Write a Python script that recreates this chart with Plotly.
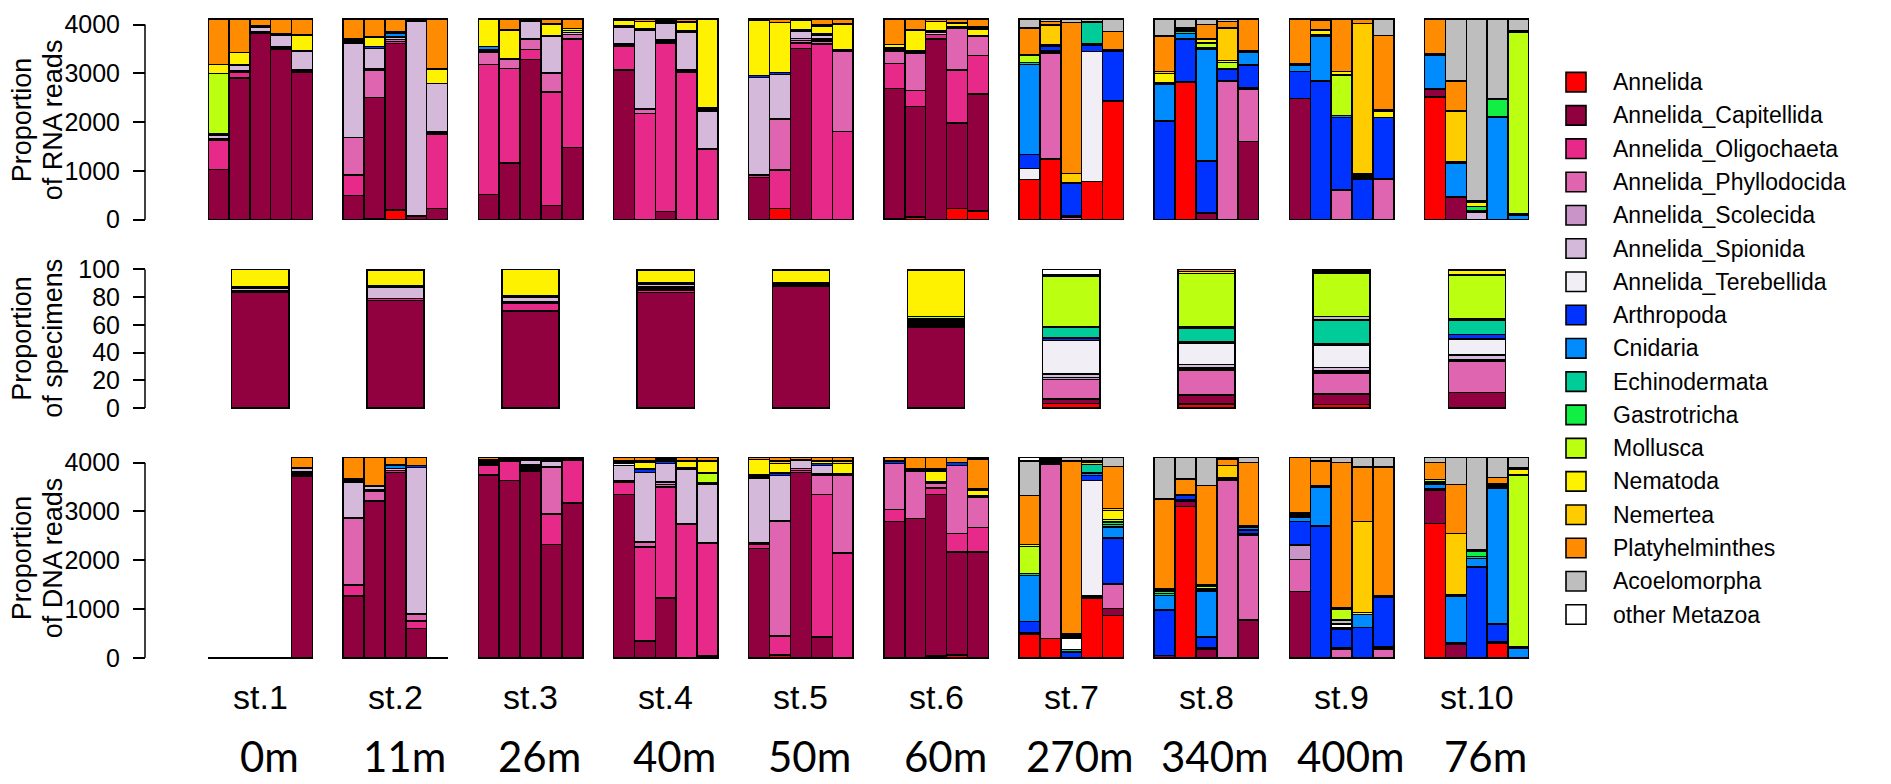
import plotly.graph_objects as go

# ---------------- taxa, colours, labels ----------------
taxa = ["Annelida", "Annelida_Capitellida", "Annelida_Oligochaeta", "Annelida_Phyllodocida",
        "Annelida_Scolecida", "Annelida_Spionida", "Annelida_Terebellida", "Arthropoda",
        "Cnidaria", "Echinodermata", "Gastrotricha", "Mollusca", "Nematoda", "Nemertea",
        "Platyhelminthes", "Acoelomorpha", "other Metazoa"]
keys = ["Ann", "Cap", "Oli", "Phy", "Sco", "Spi", "Ter", "Art", "Cni", "Ech", "Gas",
        "Mol", "Nem", "Nmr", "Pla", "Aco", "Oth"]
colors = ["#FF0000", "#91003F", "#E7298A", "#DF65B0", "#C994C7", "#D4B9DA", "#F1EEF6",
          "#0033FF", "#008CFF", "#00CC99", "#11EE44", "#BBFF11", "#FFF200", "#FFCC00",
          "#FF8C00", "#BEBEBE", "#FFFFFF"]
stations = ["st.1", "st.2", "st.3", "st.4", "st.5", "st.6", "st.7", "st.8", "st.9", "st.10"]
depths = ["0m", "11m", "26m", "40m", "50m", "60m", "270m", "340m", "400m", "76m"]

# ---------------- RNA reads (5 replicates per station) ----------------
rna_st1 = {"Cap": [1030, 2900, 3820, 3500, 3030], "Oli": [600, 130, 0, 30, 25],
           "Phy": [30, 30, 0, 20, 25], "Sco": [0, 0, 30, 0, 0], "Spi": [80, 110, 100, 240, 380],
           "Art": [20, 0, 30, 0, 0], "Cni": [0, 0, 0, 20, 0], "Mol": [1240, 0, 0, 0, 0],
           "Nem": [180, 260, 0, 0, 320], "Nmr": [0, 0, 0, 0, 20], "Pla": [930, 680, 130, 300, 310]}
rna_st2 = {"Ann": [0, 30, 200, 0, 0], "Cap": [500, 2480, 3413, 80, 233],
           "Oli": [413, 0, 40, 0, 1520], "Phy": [774, 557, 40, 0, 47], "Sco": [0, 20, 0, 0, 0],
           "Spi": [1933, 426, 40, 3980, 987], "Ter": [40, 0, 0, 0, 0], "Art": [40, 40, 20, 0, 0],
           "Cni": [0, 0, 67, 0, 0], "Ech": [0, 0, 27, 0, 0], "Nem": [0, 180, 0, 20, 293],
           "Nmr": [0, 20, 0, 0, 20], "Pla": [410, 357, 263, 30, 1010]}
rna_st3 = {"Cap": [513, 1167, 3280, 287, 1480], "Oli": [2667, 1933, 207, 2333, 2220],
           "Phy": [253, 180, 213, 380, 100], "Sco": [0, 0, 13, 20, 0], "Spi": [30, 20, 354, 747, 40],
           "Ter": [24, 0, 0, 0, 0], "Art": [0, 0, 0, 13, 0], "Cni": [66, 0, 0, 0, 0],
           "Mol": [0, 0, 0, 0, 40], "Nem": [547, 587, 13, 220, 40], "Nmr": [0, 0, 0, 20, 0],
           "Pla": [10, 223, 30, 90, 190]}
rna_st4 = {"Cap": [3067, 0, 167, 0, 0], "Oli": [480, 2180, 3453, 3013, 1453],
           "Phy": [30, 87, 40, 27, 0], "Sco": [30, 0, 27, 27, 0], "Spi": [340, 1620, 346, 766, 780],
           "Art": [33, 26, 20, 34, 0], "Cni": [0, 0, 0, 0, 20], "Mol": [0, 0, 0, 0, 40],
           "Nem": [100, 154, 40, 186, 1807], "Pla": [30, 43, 17, 57, 10]}
rna_st5 = {"Ann": [0, 233, 0, 0, 0], "Cap": [867, 0, 3513, 0, 0], "Oli": [46, 787, 107, 3600, 1813],
           "Phy": [0, 1047, 50, 60, 1634], "Sco": [0, 0, 43, 40, 0], "Spi": [2000, 913, 154, 80, 0],
           "Art": [40, 40, 20, 27, 33], "Nem": [1127, 1027, 200, 160, 520], "Nmr": [0, 0, 0, 33, 20],
           "Pla": [30, 63, 23, 110, 90]}
rna_st6 = {"Ann": [30, 60, 0, 233, 180], "Cap": [2657, 2260, 3700, 1747, 2400],
           "Oli": [513, 327, 100, 1087, 787], "Phy": [253, 773, 0, 853, 386],
           "Spi": [40, 33, 33, 30, 27], "Art": [27, 0, 34, 0, 0], "Nem": [67, 434, 200, 83, 133],
           "Nmr": [0, 13, 0, 0, 40], "Pla": [523, 210, 43, 77, 157]}
rna_st7 = {"Ann": [820, 1247, 0, 787, 2433], "Phy": [0, 2173, 60, 0, 0], "Spi": [0, 33, 20, 0, 0],
           "Ter": [227, 0, 0, 2660, 0], "Art": [286, 100, 667, 133, 1020], "Cni": [1847, 0, 20, 33, 27],
           "Ech": [40, 27, 0, 434, 0], "Mol": [147, 0, 0, 0, 0], "Nem": [20, 0, 0, 0, 0],
           "Nmr": [0, 407, 180, 0, 0], "Pla": [546, 80, 3100, 20, 380], "Aco": [177, 43, 63, 43, 250]}
rna_st8 = {"Ann": [0, 2820, 0, 0, 0], "Cap": [0, 0, 133, 0, 1600], "Phy": [0, 0, 0, 2847, 1067],
           "Spi": [0, 0, 0, 0, 33], "Art": [2020, 880, 1067, 233, 467], "Cni": [760, 120, 2300, 0, 266],
           "Ech": [20, 47, 33, 20, 34], "Mol": [0, 0, 87, 120, 0], "Nem": [200, 46, 80, 47, 0],
           "Nmr": [33, 20, 0, 666, 0], "Pla": [734, 0, 300, 134, 643], "Aco": [343, 177, 110, 43, 0]}
rna_st9 = {"Cap": [2487, 0, 0, 0, 0], "Phy": [0, 0, 600, 0, 820], "Spi": [0, 0, 20, 0, 20],
           "Art": [546, 2847, 1480, 833, 1260], "Cni": [134, 920, 33, 40, 0], "Ech": [33, 33, 0, 0, 0],
           "Mol": [0, 0, 834, 40, 0], "Nem": [0, 87, 66, 20, 133], "Nmr": [0, 13, 0, 3087, 14],
           "Pla": [910, 187, 1077, 90, 1533], "Aco": [0, 23, 0, 0, 330]}
rna_st10 = {"Ann": [2513, 0, 0, 0, 0], "Cap": [154, 467, 0, 0, 0], "Spi": [20, 0, 153, 0, 0],
            "Art": [0, 13, 0, 0, 0], "Cni": [680, 687, 27, 2100, 100], "Ech": [33, 20, 0, 13, 13],
            "Gas": [0, 0, 87, 354, 0], "Mol": [0, 0, 0, 20, 3734], "Nem": [0, 0, 93, 0, 20],
            "Nmr": [0, 1046, 20, 0, 0], "Pla": [710, 614, 0, 0, 0], "Aco": [0, 1263, 3730, 1623, 243]}

# ---------------- specimen counts (% per station) ----------------
spec_st1 = {"Cap": 83.5, "Oli": 1, "Spi": 2.3, "Art": 0.8, "Nem": 12.4}
spec_st2 = {"Cap": 77.5, "Oli": 1.5, "Spi": 8.3, "Art": 0.7, "Nem": 11.5, "Pla": 0.5}
spec_st3 = {"Cap": 70, "Oli": 5.5, "Sco": 1, "Spi": 3.7, "Art": 0.8, "Nem": 19}
spec_st4 = {"Cap": 83.5, "Oli": 1.5, "Phy": 1, "Sco": 1.3, "Spi": 1.8, "Art": 1, "Nem": 9.4, "Pla": 0.5}
spec_st5 = {"Cap": 87.8, "Oli": 1, "Sco": 0.8, "Art": 1, "Nem": 8.9, "Pla": 0.5}
spec_st6 = {"Cap": 58.4, "Oli": 1.5, "Phy": 1.5, "Spi": 1.5, "Art": 1.5, "Mol": 1.5, "Nem": 33.6, "Pla": 0.5}
spec_st7 = {"Ann": 3.1, "Cap": 3.5, "Phy": 14.1, "Sco": 1.2, "Spi": 2.8, "Ter": 24.2, "Art": 1.8,
            "Ech": 7.7, "Gas": 0.6, "Mol": 36.3, "Pla": 1.2, "Oth": 3.5}
spec_st8 = {"Ann": 3, "Cap": 6.3, "Phy": 18.2, "Sco": 1.5, "Spi": 2.3, "Ter": 15.3, "Art": 1,
            "Ech": 10, "Gas": 0.8, "Mol": 38.8, "Nem": 1.3, "Pla": 1.5}
spec_st9 = {"Ann": 2.6, "Cap": 7.4, "Phy": 15.4, "Sco": 1.2, "Spi": 2.8, "Ter": 16, "Art": 1.2,
            "Ech": 16.6, "Gas": 0.8, "AcoMid": 2, "Mol": 31.6, "Pla": 0.8, "Aco": 1.2, "Oth": 0.4}
spec_st10 = {"Cap": 11.3, "Phy": 22.8, "Sco": 0.8, "Spi": 3.5, "Ter": 11.6, "Art": 3, "Ech": 10.6,
             "Gas": 0.8, "Mol": 31.6, "Nem": 3.5, "Pla": 0.5}

# ---------------- DNA reads (5 replicates per station) ----------------
# replicates that yielded no reads are kept as a flat outline on the baseline (value 10)
dna_st1 = {"Cap": [10, 10, 10, 10, 3720], "Oli": [0, 0, 0, 0, 30], "Phy": [0, 0, 0, 0, 40],
           "Sco": [0, 0, 0, 0, 25], "Spi": [0, 0, 0, 0, 65], "Art": [0, 0, 0, 0, 20],
           "Pla": [0, 0, 0, 0, 210]}
dna_st2 = {"Cap": [1263, 3200, 3801, 598, 10], "Oli": [226, 16, 40, 160, 0],
           "Phy": [1362, 200, 0, 132, 0], "Sco": [19, 39, 0, 20, 0], "Spi": [732, 67, 39, 2990, 0],
           "Ter": [39, 0, 0, 0, 0], "Art": [39, 13, 0, 47, 0], "Cni": [0, 0, 67, 0, 0],
           "Ech": [0, 0, 20, 0, 0], "Pla": [430, 575, 143, 163, 0]}
dna_st3 = {"Cap": [3748, 3635, 3834, 2319, 3170], "Oli": [199, 399, 40, 631, 884],
           "Phy": [0, 0, 40, 950, 0], "Sco": [0, 0, 40, 20, 0], "Spi": [26, 0, 100, 114, 0],
           "Art": [27, 40, 26, 40, 26], "Cni": [30, 0, 0, 0, 0], "Ech": [40, 0, 0, 0, 0],
           "Pla": [40, 36, 30, 36, 30]}
dna_st4 = {"Cap": [3349, 346, 1229, 0, 40], "Oli": [253, 1927, 2273, 2738, 2300],
           "Phy": [0, 100, 48, 0, 0], "Sco": [33, 0, 50, 12, 12], "Spi": [312, 1427, 387, 1117, 1196],
           "Ter": [33, 0, 0, 0, 0], "Art": [34, 67, 47, 33, 40], "Cni": [33, 0, 0, 0, 0],
           "Mol": [0, 0, 0, 0, 200], "Nem": [0, 133, 46, 134, 246], "Nmr": [0, 34, 0, 0, 0],
           "Pla": [63, 76, 30, 76, 76]}
dna_st5 = {"Ann": [0, 45, 0, 0, 0], "Cap": [2240, 21, 3801, 425, 0], "Oli": [80, 379, 40, 2924, 2153],
           "Phy": [0, 2346, 39, 399, 1582], "Sco": [32, 26, 0, 20, 0], "Spi": [1329, 918, 174, 179, 0],
           "Ter": [39, 0, 0, 0, 0], "Art": [28, 53, 0, 40, 33], "Nem": [319, 199, 0, 47, 219],
           "Nmr": [0, 47, 0, 0, 47], "Pla": [43, 76, 56, 76, 76]}
dna_st6 = {"Ann": [0, 0, 40, 60, 0], "Cap": [2791, 2857, 3309, 2113, 2173],
           "Oli": [246, 0, 133, 379, 498], "Phy": [950, 977, 106, 1395, 612], "Spi": [0, 0, 27, 0, 39],
           "Art": [47, 33, 0, 53, 0], "Nem": [0, 0, 219, 0, 113], "Nmr": [0, 0, 33, 0, 33],
           "Pla": [76, 243, 243, 110, 612], "Aco": [0, 0, 0, 0, 30]}
dna_st7 = {"Ann": [478, 399, 0, 1223, 864], "Cap": [0, 0, 0, 0, 146], "Phy": [0, 3568, 0, 0, 498],
           "Spi": [0, 30, 0, 40, 20], "Ter": [34, 0, 0, 2372, 0], "Art": [232, 40, 120, 100, 931],
           "Cni": [944, 0, 0, 53, 226], "Ech": [40, 0, 50, 179, 50], "Gas": [0, 0, 0, 0, 50],
           "OthMid": [0, 0, 240, 0, 0], "Mol": [558, 0, 0, 0, 52], "Nem": [40, 0, 40, 0, 180],
           "Nmr": [0, 0, 40, 33, 40], "Pla": [1000, 40, 3540, 34, 860], "Aco": [704, 33, 80, 76, 193],
           "Oth": [80, 0, 0, 0, 0]}
dna_st8 = {"Ann": [0, 3103, 0, 0, 0], "Cap": [50, 100, 179, 0, 778], "Phy": [0, 0, 0, 3635, 1727],
           "Spi": [0, 33, 34, 33, 33], "Art": [927, 100, 216, 32, 80], "Cni": [299, 13, 946, 0, 53],
           "Ech": [45, 0, 34, 0, 34], "Gas": [44, 0, 0, 0, 0], "Mol": [44, 0, 53, 0, 0],
           "Nmr": [0, 0, 26, 247, 0], "Pla": [1844, 319, 2047, 133, 1295], "Aco": [857, 442, 575, 30, 110]}
dna_st9 = {"Cap": [1356, 0, 0, 0, 0], "Phy": [664, 0, 170, 0, 175], "Sco": [286, 0, 0, 0, 20],
           "Spi": [20, 0, 30, 0, 0], "Ter": [0, 0, 0, 0, 30], "Art": [465, 2700, 380, 620, 1018],
           "Cni": [100, 802, 0, 266, 0], "Ech": [40, 20, 30, 0, 20], "OthMid": [0, 0, 80, 0, 0],
           "AcoMid": [0, 0, 90, 0, 0], "Mol": [0, 0, 214, 0, 0], "Nem": [0, 0, 30, 44, 0],
           "Nmr": [39, 0, 0, 1861, 0], "Pla": [1140, 512, 2976, 1120, 2652], "Aco": [0, 76, 110, 199, 195]}
dna_st10 = {"Ann": [2751, 0, 0, 292, 0], "Cap": [685, 279, 0, 33, 0], "Spi": [32, 0, 0, 0, 0],
            "Art": [0, 20, 1860, 366, 0], "Cni": [80, 964, 180, 2778, 199], "Ech": [35, 20, 33, 33, 20],
            "Gas": [35, 0, 120, 33, 0], "Mol": [37, 0, 27, 33, 3529], "Nem": [0, 0, 0, 0, 119],
            "Nmr": [0, 1269, 0, 0, 0], "Pla": [345, 996, 0, 133, 33], "Aco": [110, 562, 1890, 409, 210]}

rna = [rna_st1, rna_st2, rna_st3, rna_st4, rna_st5, rna_st6, rna_st7, rna_st8, rna_st9, rna_st10]
dna = [dna_st1, dna_st2, dna_st3, dna_st4, dna_st5, dna_st6, dna_st7, dna_st8, dna_st9, dna_st10]
spec = [spec_st1, spec_st2, spec_st3, spec_st4, spec_st5, spec_st6, spec_st7, spec_st8, spec_st9, spec_st10]

# stacking order: minor "other" reads sit between Gastrotricha and Mollusca
color_of = dict(zip(keys, colors))
color_of["OthMid"] = color_of["Oth"]
color_of["AcoMid"] = color_of["Aco"]
name_of = dict(zip(keys, taxa))
name_of["OthMid"] = name_of["Oth"]
name_of["AcoMid"] = name_of["Aco"]
stack = keys[:11] + ["OthMid", "AcoMid"] + keys[11:]

# ---------------- geometry ----------------
W, H = 1891, 784
FONT = "Liberation Sans, Arial, sans-serif"
PITCH = 6.47            # station spacing in bar widths
NREP = 5
x_rep = [s * PITCH + r + 0.5 for s in range(10) for r in range(NREP)]
x_mid = [s * PITCH + NREP / 2 for s in range(10)]
XRANGE = [0, 9 * PITCH + NREP]
XDOM = [208 / W, 1529 / W]
AXIS_X = 145 / W


def ydomain(zero_px, unit_px, lo, hi):
    return [1 - (zero_px - lo * unit_px) / H, 1 - (zero_px - hi * unit_px) / H]


panels = [
    # (axis suffix, zero pixel, pixels per unit, range, ticks, title lines, centre px)
    ("", 218, 0.05, [-40, 4200], [0, 1000, 2000, 3000, 4000], ["Proportion", "of RNA reads"], 116),
    ("2", 411, 1.42, [-1.5, 105], [0, 20, 40, 60, 80, 100], ["Proportion", "of specimens"], 340),
    ("3", 667, 0.05, [-40, 4200], [0, 1000, 2000, 3000, 4000], ["Proportion", "of DNA reads"], 565),
]

fig = go.Figure()
LINE = dict(color="black", width=1.5)

for k in stack:
    # RNA
    vals = [v for st in rna for v in st.get(k, [0] * NREP)]
    if any(vals):
        fig.add_bar(x=x_rep, y=[v if v else None for v in vals], width=1, name=name_of[k],
                    marker=dict(color=color_of[k], line=LINE), xaxis="x", yaxis="y",
                    showlegend=False, hoverinfo="name+y")
    # specimens
    vals = [st.get(k, 0) for st in spec]
    if any(vals):
        fig.add_bar(x=x_mid, y=[v if v else None for v in vals], width=2.73, name=name_of[k],
                    marker=dict(color=color_of[k], line=LINE), xaxis="x2", yaxis="y2",
                    showlegend=False, hoverinfo="name+y")
    # DNA
    vals = [v for st in dna for v in st.get(k, [0] * NREP)]
    if any(vals):
        fig.add_bar(x=x_rep, y=[v if v else None for v in vals], width=1, name=name_of[k],
                    marker=dict(color=color_of[k], line=LINE), xaxis="x3", yaxis="y3",
                    showlegend=False, hoverinfo="name+y")

layout = dict(
    width=W, height=H, margin=dict(l=0, r=0, t=0, b=0),
    paper_bgcolor="white", plot_bgcolor="white", barmode="stack",
    font=dict(family=FONT, color="black"), showlegend=False,
)
shapes, annotations = [], []
for suf, zero_px, unit_px, rng, ticks, title, cy in panels:
    layout["xaxis" + suf] = dict(domain=XDOM, range=XRANGE, visible=False,
                                 anchor="y" + suf, fixedrange=True)
    layout["yaxis" + suf] = dict(
        domain=ydomain(zero_px, unit_px, rng[0], rng[1]), range=rng, anchor="free",
        position=AXIS_X, tickvals=ticks, ticks="outside", ticklen=12, tickwidth=1.5,
        tickcolor="black", showgrid=False, zeroline=False, showline=False,
        tickfont=dict(size=25, family=FONT, color="black"), ticklabelstandoff=8,
        fixedrange=True)
    shapes.append(dict(type="line", xref="paper", yref="y" + suf, x0=AXIS_X, x1=AXIS_X,
                       y0=ticks[0], y1=ticks[-1], line=dict(color="black", width=1.5)))
    for j, line_text in enumerate(title):
        annotations.append(dict(text=line_text, textangle=-90, xref="paper", yref="paper",
                                x=(22 + 31 * j) / W, y=1 - cy / H, xanchor="center",
                                yanchor="middle", showarrow=False,
                                font=dict(size=27, family=FONT, color="black")))

# station and depth labels
for s in range(10):
    annotations.append(dict(text=stations[s], xref="x3", yref="paper", x=x_mid[s], y=1 - 707 / H,
                            xanchor="center", yanchor="middle", showarrow=False,
                            font=dict(size=34, family=FONT, color="black")))
    annotations.append(dict(text=depths[s], xref="x3", yref="paper", x=x_mid[s], xshift=9,
                            y=1 - 768 / H, xanchor="center", yanchor="middle", showarrow=False,
                            font=dict(size=42, family="Lato, sans-serif", color="black")))

# legend: filled squares with black borders
LEG_TOP, LEG_STEP, SQ = 77, 34.1, 20
for i, (name, col) in enumerate(zip(taxa, colors)):
    cy = LEG_TOP + i * LEG_STEP
    shapes.append(dict(type="rect", xref="paper", yref="paper",
                       x0=1566 / W, x1=(1566 + SQ) / W,
                       y0=1 - (cy + SQ / 2) / H, y1=1 - (cy - SQ / 2) / H,
                       fillcolor=col, line=dict(color="black", width=1.6)))
    annotations.append(dict(text=name, xref="paper", yref="paper", x=1611 / W, y=1 - cy / H,
                            xanchor="left", yanchor="middle", showarrow=False,
                            font=dict(size=23, family=FONT, color="black")))

layout["shapes"] = shapes
layout["annotations"] = annotations
fig.update_layout(**layout)
fig.write_html("out.html")
